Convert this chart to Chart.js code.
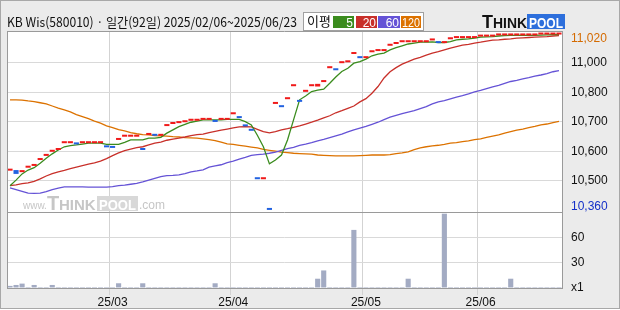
<!DOCTYPE html>
<html>
<head>
<meta charset="utf-8">
<script src="https://cdn.jsdelivr.net/npm/chart.js@4.4.1/dist/chart.umd.min.js"></script>
<style>
  html, body { margin: 0; padding: 0; background: #fff; }
  canvas { display: block; }
</style>
</head>
<body>
<canvas id="priceChart" width="620" height="310"></canvas>
<script>
// --- data (trading days 2025/02/06 ~ 2025/06/23) ---
const days = [
  '25/02/06','25/02/07','25/02/10','25/02/11','25/02/12','25/02/13','25/02/14','25/02/17','25/02/18','25/02/19',
  '25/02/20','25/02/21','25/02/24','25/02/25','25/02/26','25/02/27','25/02/28',
  '25/03/04','25/03/05','25/03/06','25/03/07','25/03/10','25/03/11','25/03/12','25/03/13','25/03/14','25/03/17',
  '25/03/18','25/03/19','25/03/20','25/03/21','25/03/24','25/03/25','25/03/26','25/03/27','25/03/28','25/03/31',
  '25/04/01','25/04/02','25/04/03','25/04/04','25/04/07','25/04/08','25/04/09','25/04/10','25/04/11','25/04/14',
  '25/04/15','25/04/16','25/04/17','25/04/18','25/04/21','25/04/22','25/04/23','25/04/24','25/04/25','25/04/28',
  '25/04/29','25/04/30',
  '25/05/02','25/05/07','25/05/08','25/05/09','25/05/12','25/05/13','25/05/14','25/05/15','25/05/16','25/05/19',
  '25/05/20','25/05/21','25/05/22','25/05/23','25/05/26','25/05/27','25/05/28','25/05/29','25/05/30',
  '25/06/02','25/06/04','25/06/05','25/06/09','25/06/10','25/06/11','25/06/12','25/06/13','25/06/16','25/06/17',
  '25/06/18','25/06/19','25/06/20','25/06/23'
];

const closes = [
  10535,10524,10530,10545,10551,10571,10585,10599,10605,10628,
  10628,10624,10628,10628,10628,10628,10614,10612,10639,10650,
  10650,10650,10605,10656,10653,10653,10686,10693,10696,10699,
  10704,10704,10707,10707,10700,10707,10707,10726,10713,10685,
  10670,10506,10506,10402,10761,10750,10777,10821,10768,10802,
  10821,10829,10835,10882,10875,10899,10902,10930,10916,10916,
  10936,10940,10940,10958,10964,10970,10970,10970,10970,10970,
  10976,10967,10967,10980,10984,10984,10984,10984,10989,10989,
  10989,10993,10993,10993,10993,10993,10993,10993,10996,10996,
  10996,10996
];
// days where the open differs from the close
const opens = { 1: 10537, 51: 10820 };

const volumes = [
  2.5,3.6,5.2,0,3.6,0,0,3.6,0,0,
  0,0,0,0,0,0,0,0,5.6,0,
  0,0,5.6,0,0,0,0,0,0,0,
  0,0,0,0,5.6,0,0,0,0,0,
  0,0,0,0,0,0,0,0,0,0,
  0,11,20.8,0,0,0,0,68.8,0,0,
  0,0,0,0,0,0,11,0,0,0,
  0,0,88,0,0,0,0,0,0,0,
  0,0,0,11,0,0,0,0,0,0,
  0,0
];

const ma5 = [
  10484,10503,10524,10537,10545,10560,10577,10592,10605,10616,
  10620,10622,10625,10628,10628,10628,10624,10624,10624,10631,
  10639,10639,10639,10645,10645,10648,10662,10673,10684,10692,
  10699,10703,10707,10707,10707,10707,10709,10709,10709,10701,
  10690,10655,10616,10558,10571,10588,10639,10707,10775,10788,
  10803,10808,10811,10831,10852,10871,10882,10899,10904,10913,
  10924,10930,10933,10944,10952,10958,10964,10967,10970,10970,
  10971,10969,10969,10972,10978,10980,10981,10984,10987,10988,
  10989,10991,10992,10993,10993,10993,10993,10993,10994,10995,
  10996,10996
];
const ma20 = [
  10484,10487,10491,10494,10499,10507,10517,10525,10531,10536,
  10542,10547,10552,10557,10561,10567,10576,10586,10595,10603,
  10608,10613,10616,10622,10628,10632,10638,10642,10645,10649,
  10654,10657,10659,10664,10668,10672,10676,10680,10683,10684,
  10683,10675,10667,10663,10667,10673,10677,10682,10687,10693,
  10699,10706,10714,10721,10731,10738,10746,10754,10768,10779,
  10797,10820,10849,10870,10884,10896,10904,10913,10919,10926,
  10933,10938,10944,10950,10955,10960,10963,10967,10970,10974,
  10977,10978,10980,10981,10984,10985,10986,10987,10988,10989,
  10991,10992
];
const ma60 = [
  10477,10471,10465,10459,10458,10459,10464,10471,10476,10480,
  10480,10480,10480,10479,10479,10479,10479,10481,10484,10486,
  10489,10492,10497,10503,10509,10515,10518,10519,10521,10525,
  10531,10534,10538,10547,10551,10555,10562,10567,10574,10580,
  10587,10589,10591,10594,10598,10604,10610,10614,10621,10625,
  10630,10636,10641,10647,10653,10659,10666,10673,10679,10685,
  10692,10699,10708,10716,10722,10728,10733,10738,10745,10752,
  10761,10768,10772,10778,10784,10789,10795,10802,10807,10813,
  10819,10824,10831,10837,10841,10846,10850,10855,10859,10864,
  10870,10874
];
const ma120 = [
  10775,10775,10774,10771,10769,10765,10761,10754,10747,10741,
  10734,10725,10718,10711,10703,10696,10687,10681,10674,10670,
  10664,10660,10657,10656,10654,10653,10652,10650,10649,10647,
  10646,10645,10643,10640,10637,10632,10626,10624,10621,10618,
  10615,10612,10607,10604,10601,10598,10596,10594,10593,10592,
  10591,10588,10587,10586,10585,10585,10585,10585,10586,10587,
  10588,10588,10588,10589,10593,10595,10599,10606,10612,10616,
  10619,10621,10624,10628,10630,10633,10636,10640,10643,10648,
  10652,10656,10662,10667,10672,10676,10681,10685,10690,10693,
  10698,10702
];

// right axis labels as printed on the chart (first/last mark low/high)
const yTickVals = [10413, 10500, 10600, 10700, 10800, 10900, 10983];
const yTickText = ['10,360', '10,500', '10,600', '10,700', '10,800', '11,000', '11,020'];
const volTickVals = [0, 30, 60];
const volTickText = ['x1', '30', '60'];

const title = 'KB Wis(580010) · 일간(92일) 2025/02/06~2025/06/23';
const maLegend = ['5', '20', '60', '120'];

// --- styles ---
const UP = '#f01a1a', DOWN = '#2262e0';
const MA_COLORS = ['#3b8c1e', '#c8302a', '#6553d6', '#dc7200'];
const FONT = 'Liberation Sans';
const monthStart = days.map((d, i) => i > 0 && d.slice(0, 5) !== days[i - 1].slice(0, 5));

const decor = {
    id: 'decor',
    beforeDraw(chart) {
        const { ctx, chartArea: a } = chart;
        ctx.save();
        ctx.fillStyle = '#ebebeb';
        ctx.fillRect(0, 0, 620, 310);
        ctx.fillStyle = '#fff';
        ctx.fillRect(0, 309, 620, 1);
        ctx.fillRect(a.left, a.top, a.right - a.left, a.bottom - a.top);
        ctx.strokeStyle = '#a8a8a8';
        ctx.lineWidth = 1;
        ctx.strokeRect(0.5, 0.5, 619, 308);

        // title
        ctx.fillStyle = '#111';
        ctx.textBaseline = 'alphabetic';
        ctx.font = '13px "Noto Sans CJK KR"';
        ctx.fillText(title, 7, 27, 290);

        // MA legend box
        ctx.fillStyle = '#fff';
        ctx.fillRect(303.5, 12.5, 120, 18);
        ctx.strokeStyle = '#a0a0a0';
        ctx.strokeRect(303.5, 12.5, 120, 18);
        ctx.fillStyle = '#111';
        ctx.font = '13px "Noto Sans CJK KR"';
        ctx.fillText('이평', 307, 26, 25);
        const boxes = [[333, 21], [356, 21], [378, 22], [401, 20]];
        ctx.font = '12px ' + FONT;
        ctx.textAlign = 'right';
        boxes.forEach(([x, w], i) => {
            ctx.fillStyle = MA_COLORS[i];
            ctx.fillRect(x, 16, w, 12);
            ctx.fillStyle = '#fff';
            ctx.fillText(maLegend[i], x + w - 1, 27, w - 2);
        });
        ctx.textAlign = 'left';

        // THINKPOOL logo
        ctx.fillStyle = '#111';
        ctx.font = 'bold 18px ' + FONT;
        ctx.fillText('T', 482, 28);
        ctx.font = 'bold 14px ' + FONT;
        ctx.fillText('HINK', 493, 28, 34);
        ctx.fillStyle = '#2d6fdc';
        ctx.fillRect(527, 14, 38, 15);
        ctx.fillStyle = '#fff';
        ctx.fillText('POOL', 529, 27.5, 34);
        ctx.restore();
    },
    beforeDatasetsDraw(chart) {
        const { ctx } = chart;
        ctx.save();
        ctx.fillStyle = '#c6c6c6';
        ctx.font = '10px ' + FONT;
        ctx.fillText('www.', 23, 209);
        ctx.font = 'bold 20px ' + FONT;
        ctx.fillText('T', 47, 210);
        ctx.font = 'bold 15px ' + FONT;
        ctx.fillText('HINK', 59, 210, 38);
        ctx.fillStyle = '#d8d8d8';
        ctx.fillRect(97, 196, 41, 15);
        ctx.fillStyle = '#fff';
        ctx.fillText('POOL', 99, 209.5, 37);
        ctx.fillStyle = '#c6c6c6';
        ctx.font = '12px ' + FONT;
        ctx.fillText('.com', 139, 209);
        ctx.restore();
    },
    afterDatasetsDraw(chart) {
        const { ctx, chartArea: a } = chart;
        const sep = Math.round(chart.scales.yv.top) + 0.5;
        ctx.save();
        ctx.strokeStyle = '#9a9a9a';
        ctx.lineWidth = 1;
        ctx.beginPath();
        ctx.moveTo(a.left, a.top + 0.5); ctx.lineTo(a.right, a.top + 0.5);
        ctx.moveTo(a.left + 0.5, a.top); ctx.lineTo(a.left + 0.5, a.bottom);
        ctx.moveTo(a.left, sep); ctx.lineTo(a.right, sep);
        ctx.stroke();
        ctx.restore();
    }
};

Chart.defaults.font.family = FONT;

const maLine = (label, data, color, order) => ({
    type: 'line',
    label,
    data,
    borderColor: color,
    borderWidth: 1.3,
    pointRadius: 0,
    tension: 0,
    yAxisID: 'y',
    order
});

new Chart(document.getElementById('priceChart'), {
    type: 'bar',
    data: {
        labels: days,
        datasets: [
            {
                label: 'price',
                data: closes.map((c, i) => [opens[i] ?? c, c]),
                backgroundColor: closes.map((c, i) => (i > 0 && c < closes[i - 1]) ? DOWN : UP),
                grouped: false,
                minBarLength: 2,
                barPercentage: 0.85,
                categoryPercentage: 1,
                yAxisID: 'y',
                order: 0
            },
            maLine('5', ma5, MA_COLORS[0], 1),
            maLine('20', ma20, MA_COLORS[1], 2),
            maLine('60', ma60, MA_COLORS[2], 3),
            maLine('120', ma120, MA_COLORS[3], 4),
            {
                label: 'volume',
                data: volumes,
                backgroundColor: '#a3abc3',
                grouped: false,
                minBarLength: 1,
                barPercentage: 0.85,
                categoryPercentage: 1,
                yAxisID: 'yv',
                order: 5
            }
        ]
    },
    options: {
        responsive: false,
        animation: false,
        events: [],
        layout: { padding: { left: 7, top: 31, right: 0, bottom: 0 } },
        plugins: {
            legend: { display: false },
            tooltip: { enabled: false }
        },
        scales: {
            x: {
                type: 'category',
                offset: true,
                grid: {
                    offset: true,
                    color: (c) => monthStart[c.index] ? '#d3d3d3' : 'rgba(0,0,0,0)',
                    tickLength: 7
                },
                border: { color: '#9a9a9a' },
                ticks: {
                    autoSkip: false,
                    maxRotation: 0,
                    minRotation: 0,
                    padding: 0,
                    color: '#111',
                    font: { size: 12 },
                    callback: (v, i) => monthStart[i] ? days[i].slice(0, 5) : ''
                },
                afterFit: (s) => { s.height = 22; }
            },
            y: {
                type: 'linear',
                position: 'right',
                stack: 'panels',
                stackWeight: 181,
                min: 10395,
                max: 11008,
                afterBuildTicks: (s) => { s.ticks = yTickVals.map(v => ({ value: v })); },
                grid: {
                    color: (c) => (c.index > 0 && c.index < yTickVals.length - 1) ? '#d9d9d9' : 'rgba(0,0,0,0)',
                    drawTicks: false
                },
                border: { color: '#9a9a9a' },
                ticks: {
                    autoSkip: false,
                    padding: 9,
                    font: { size: 12 },
                    color: (c) => c.index === 0 ? '#1430c8' : (c.index === yTickVals.length - 1 ? '#d46a00' : '#111'),
                    callback: (v, i) => yTickText[i]
                },
                afterFit: (s) => { s.width = 58; }
            },
            yv: {
                type: 'linear',
                position: 'right',
                stack: 'panels',
                stackWeight: 76,
                min: 0,
                max: 90,
                afterBuildTicks: (s) => { s.ticks = volTickVals.map(v => ({ value: v })); },
                grid: {
                    color: (c) => c.index > 0 ? '#d9d9d9' : 'rgba(0,0,0,0)',
                    drawTicks: false
                },
                border: { color: '#9a9a9a' },
                ticks: {
                    autoSkip: false,
                    padding: 9,
                    font: { size: 12 },
                    color: '#111',
                    callback: (v, i) => volTickText[i]
                },
                afterFit: (s) => { s.width = 58; }
            }
        }
    },
    plugins: [decor]
});
</script>
</body>
</html>
